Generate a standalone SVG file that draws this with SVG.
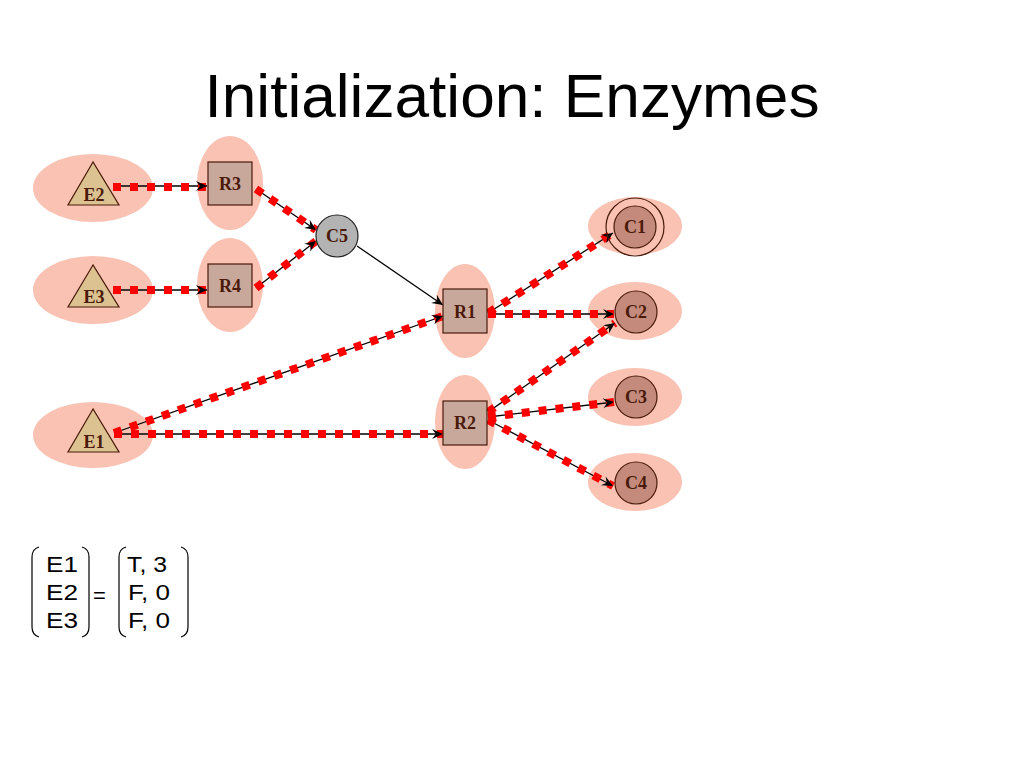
<svg xmlns="http://www.w3.org/2000/svg" width="1024" height="768" viewBox="0 0 1024 768">
<defs>
<marker id="arr" markerUnits="userSpaceOnUse" markerWidth="12" markerHeight="10" refX="11" refY="5" orient="auto" overflow="visible">
<path d="M0,0 L11,5 L0,10 L4,5 z" fill="#000"/>
</marker>
</defs>
<style>
.halo{fill:#f9c2b3;stroke:none}
.sq{fill:#c9a89c;stroke:#4a1a0a;stroke-width:1.2}
.tri{fill:#dcc291;stroke:#4a1a0a;stroke-width:1.2}
.cir{fill:#c48a7b;stroke:#4a1a0a;stroke-width:1.2}
.gray{fill:#b3b3b3;stroke:#222;stroke-width:1.2}
.ring{fill:none;stroke:#4a1a0a;stroke-width:1.2}
.lbl{font-family:"Liberation Serif","DejaVu Serif",serif;font-weight:bold;font-size:18px;fill:#4a1a0a;text-anchor:middle}
.blk{stroke:#000;stroke-width:1.3;fill:none}
.red{stroke:#ff0000;stroke-width:8;stroke-dasharray:8 9;fill:none}
.tip{stroke:none;fill:none;marker-end:url(#arr)}
.mt{font-family:"Liberation Sans",Arial,sans-serif;font-size:22px;fill:#000}
.br{fill:none;stroke:#000;stroke-width:1.2}
</style>
<rect width="1024" height="768" fill="#fff"/>
<text x="512" y="117" font-family="Liberation Sans, Arial, sans-serif" font-size="61" text-anchor="middle" textLength="615" lengthAdjust="spacingAndGlyphs">Initialization: Enzymes</text>

<g id="halos">
<ellipse class="halo" cx="93" cy="188" rx="60" ry="34"/>
<ellipse class="halo" cx="93" cy="290" rx="60" ry="34"/>
<ellipse class="halo" cx="93" cy="435" rx="60" ry="33"/>
<ellipse class="halo" cx="230" cy="183" rx="33" ry="47"/>
<ellipse class="halo" cx="230" cy="285" rx="33" ry="47"/>
<ellipse class="halo" cx="465" cy="311" rx="30" ry="47"/>
<ellipse class="halo" cx="465" cy="422" rx="30" ry="47"/>
<ellipse class="halo" cx="635" cy="226" rx="47" ry="29"/>
<ellipse class="halo" cx="635" cy="311" rx="47" ry="29"/>
<ellipse class="halo" cx="635" cy="397" rx="47" ry="29"/>
<ellipse class="halo" cx="635" cy="482" rx="47" ry="29"/>
</g>

<g id="connectors">
<line class="blk" x1="113" y1="186" x2="207" y2="186"/>
<line class="blk" x1="113" y1="290" x2="207" y2="290"/>
<line class="blk" x1="256" y1="189" x2="316" y2="230"/>
<line class="blk" x1="256" y1="288" x2="316" y2="241"/>
<line class="blk" x1="357" y1="246" x2="443" y2="305"/>
<line class="blk" x1="114" y1="433" x2="443" y2="316"/>
<line class="blk" x1="114" y1="434" x2="443" y2="434"/>
<line class="blk" x1="488" y1="313" x2="613" y2="233"/>
<line class="blk" x1="488" y1="314" x2="614" y2="314"/>
<line class="blk" x1="488" y1="412" x2="615" y2="323"/>
<line class="blk" x1="488" y1="417" x2="614" y2="402"/>
<line class="blk" x1="488" y1="420" x2="613" y2="486"/>

<line class="red" x1="113" y1="187" x2="207" y2="187"/>
<line class="red" x1="113" y1="290" x2="207" y2="290"/>
<line class="red" x1="256" y1="189" x2="316" y2="230"/>
<line class="red" x1="256" y1="288" x2="316" y2="241"/>
<line class="red" x1="114" y1="433" x2="443" y2="316"/>
<line class="red" x1="114" y1="434" x2="443" y2="434"/>
<line class="red" x1="488" y1="313" x2="613" y2="233"/>
<line class="red" x1="488" y1="314" x2="614" y2="314"/>
<line class="red" x1="488" y1="412" x2="615" y2="323"/>
<line class="red" x1="488" y1="417" x2="614" y2="402"/>
<line class="red" x1="488" y1="420" x2="613" y2="486"/>

<line class="tip" x1="113" y1="186" x2="207" y2="186"/>
<line class="tip" x1="113" y1="290" x2="207" y2="290"/>
<line class="tip" x1="256" y1="189" x2="316" y2="230"/>
<line class="tip" x1="256" y1="288" x2="316" y2="241"/>
<line class="tip" x1="357" y1="246" x2="443" y2="305"/>
<line class="tip" x1="114" y1="433" x2="443" y2="316"/>
<line class="tip" x1="114" y1="434" x2="443" y2="434"/>
<line class="tip" x1="488" y1="313" x2="613" y2="233"/>
<line class="tip" x1="488" y1="314" x2="614" y2="314"/>
<line class="tip" x1="488" y1="412" x2="615" y2="323"/>
<line class="tip" x1="488" y1="417" x2="614" y2="402"/>
<line class="tip" x1="488" y1="420" x2="613" y2="486"/>
</g>

<g id="E2"><polygon class="tri" points="93,162 68,205 119,205"/><text class="lbl" x="94" y="201">E2</text></g>
<g id="E3"><polygon class="tri" points="93,265 68,307 119,307"/><text class="lbl" x="94" y="303">E3</text></g>
<g id="E1"><polygon class="tri" points="93,409 68,452 119,452"/><text class="lbl" x="94" y="448">E1</text></g>
<g id="R3"><rect class="sq" x="208" y="162" width="44" height="43"/><text class="lbl" x="230" y="190">R3</text></g>
<g id="R4"><rect class="sq" x="208" y="264" width="44" height="43"/><text class="lbl" x="230" y="292">R4</text></g>
<g id="R1"><rect class="sq" x="443" y="289" width="44" height="44"/><text class="lbl" x="465" y="318">R1</text></g>
<g id="R2"><rect class="sq" x="443" y="401" width="44" height="44"/><text class="lbl" x="465" y="429">R2</text></g>
<g id="C5"><circle class="gray" cx="337" cy="236" r="21"/><text class="lbl" x="337" y="242">C5</text></g>
<g id="C1"><circle class="ring" cx="635" cy="227" r="29"/><circle class="cir" cx="635" cy="227" r="21"/><text class="lbl" x="635" y="233">C1</text></g>
<g id="C2"><circle class="cir" cx="636" cy="312" r="21"/><text class="lbl" x="636" y="318">C2</text></g>
<g id="C3"><circle class="cir" cx="636" cy="397" r="21"/><text class="lbl" x="636" y="403">C3</text></g>
<g id="C4"><circle class="cir" cx="636" cy="483" r="21"/><text class="lbl" x="636" y="489">C4</text></g>

<g id="matrix">
<path class="br" d="M39,547 Q32,549 32,557 L32,627 Q32,635 39,637"/>
<path class="br" d="M82,547 Q89,549 89,557 L89,627 Q89,635 82,637"/>
<text class="mt" x="46" y="572" textLength="32" lengthAdjust="spacingAndGlyphs">E1</text>
<text class="mt" x="46" y="600" textLength="32" lengthAdjust="spacingAndGlyphs">E2</text>
<text class="mt" x="46" y="628" textLength="32" lengthAdjust="spacingAndGlyphs">E3</text>
<text class="mt" x="93" y="603">=</text>
<path class="br" d="M126,547 Q119,549 119,557 L119,627 Q119,635 126,637"/>
<path class="br" d="M181,547 Q188,549 188,557 L188,627 Q188,635 181,637"/>
<text class="mt" x="127" y="572" textLength="40" lengthAdjust="spacingAndGlyphs">T, 3</text>
<text class="mt" x="128" y="600" textLength="42" lengthAdjust="spacingAndGlyphs">F, 0</text>
<text class="mt" x="128" y="628" textLength="42" lengthAdjust="spacingAndGlyphs">F, 0</text>
</g>
</svg>
